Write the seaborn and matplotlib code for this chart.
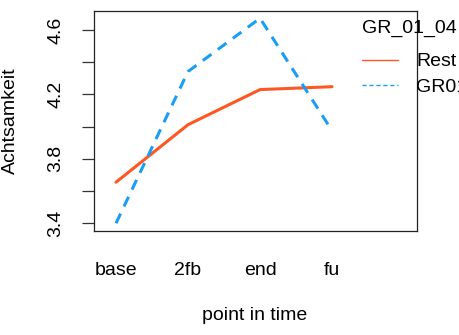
import matplotlib
matplotlib.use("Agg")
import matplotlib.pyplot as plt
import seaborn as sns
import pandas as pd

time_points = ["base", "2fb", "end", "fu"]
rest_values = [3.655, 4.012, 4.230, 4.248]
gr01_values = [3.400, 4.342, 4.673, 3.975]
groups = ["Rest", "GR01"]
y_ticks = [3.4, 3.6, 3.8, 4.0, 4.2, 4.4, 4.6]
y_tick_labels = ["3.4", "", "3.8", "", "4.2", "", "4.6"]

df = pd.DataFrame({
    "time": time_points * 2,
    "value": rest_values + gr01_values,
    "group": [groups[0]] * 4 + [groups[1]] * 4,
})

sns.set_style("white")
plt.rcParams["font.family"] = ["Liberation Sans", "DejaVu Sans"]
plt.rcParams["text.color"] = "black"
plt.rcParams["xtick.color"] = "black"
plt.rcParams["ytick.color"] = "black"

FS = 14

fig = plt.figure(figsize=(4.6, 3.35), dpi=100)
ax = fig.add_axes([0.2043, 0.3104, 0.7022, 0.6568])

palette = {"Rest": "#FF5722", "GR01": "#1A9EF5"}
sns.lineplot(data=df, x="time", y="value", hue="group", style="group",
             palette=palette, dashes={"Rest": "", "GR01": (3.5, 2.6)},
             linewidth=2.2, sort=False, ax=ax, legend=True)

ax.set_xlim(-0.306, 4.18)
ax.set_ylim(3.352, 4.718)
ax.set_yticks(y_ticks)
ax.set_yticklabels(y_tick_labels, rotation=90, va="center", fontsize=FS)
for lab in ax.get_xticklabels():
    lab.set_fontsize(FS)
ax.tick_params(axis="x", length=0, pad=22)
ax.tick_params(axis="y", length=8.6, width=0.9, color="#333333", pad=12.5, left=True)

for s in ax.spines.values():
    s.set_visible(True)
    s.set_color("#222222")
    s.set_linewidth(0.9)

ax.set_xlabel("")
ax.set_ylabel("")
fig.text(10 / 460, 1 - 121 / 335, "Achtsamkeit", rotation=90, ha="center",
         va="center", fontsize=FS)
fig.text(255 / 460, 1 - 315 / 335, "point in time", ha="center",
         va="center", fontsize=FS)
fig.text(362 / 460, 1 - 28 / 335, "GR_01_04", ha="left", va="center",
         fontsize=FS)

leg = ax.legend(loc="center left",
                bbox_to_anchor=(362 / 460, 1 - 74.5 / 335),
                bbox_transform=fig.transFigure, frameon=False,
                fontsize=FS, borderpad=0,
                borderaxespad=0, handlelength=36 / 19.4, handletextpad=18 / 19.4,
                labelspacing=0.42)
leg.set_clip_on(False)
for line in leg.get_lines():
    line.set_linewidth(1.0)
leg.get_lines()[1].set_dashes((3, 2))

fig.savefig("out.png", dpi=100)
